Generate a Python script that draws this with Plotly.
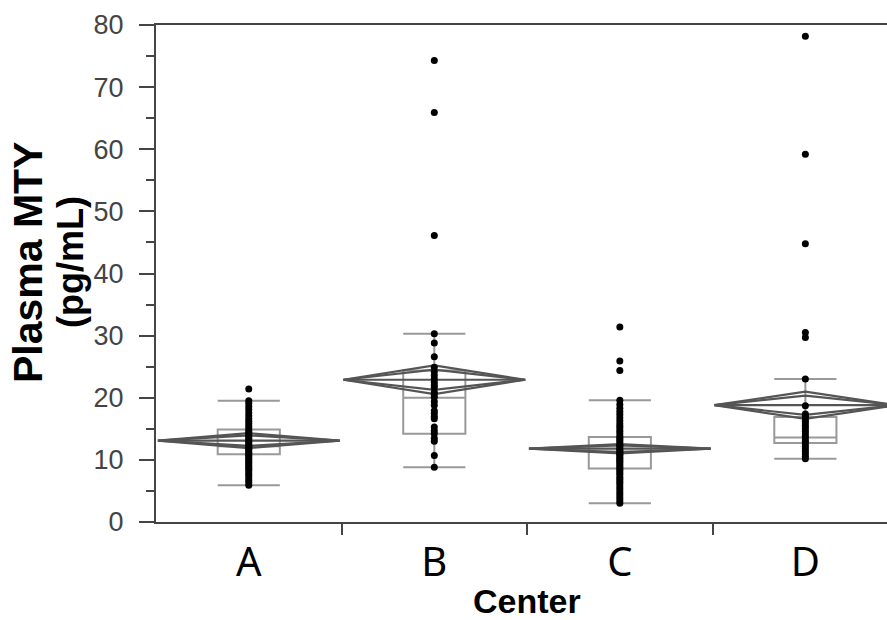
import math
import plotly.graph_objects as go

# ---------------- data ----------------
categories = ["A", "B", "C", "D"]

points_A = [5.9, 6.3, 6.7, 7.1, 7.5, 7.8, 8.2, 8.5, 8.8, 9.1, 9.4, 9.7, 10.0, 10.2,
            10.5, 10.7, 11.0, 11.2, 11.5, 11.7, 12.0, 12.2, 12.4, 12.7, 12.9, 13.2,
            13.5, 13.8, 14.1, 14.4, 14.7, 15.0, 15.4, 15.8, 16.2, 16.6, 17.1, 17.6,
            18.1, 18.6, 19.1, 19.5, 21.4]
points_B = [8.8, 10.7, 13.0, 13.5, 14.2, 14.7, 15.3, 16.6, 17.0, 17.5, 17.9, 18.8,
            19.4, 20.1, 20.5, 20.9, 21.6, 22.0, 22.5, 23.0, 23.6, 24.2, 24.9, 26.6,
            28.8, 30.3, 46.1, 65.9, 74.3]
points_C = [3.0, 3.4, 3.8, 4.2, 4.6, 5.0, 5.4, 5.8, 6.2, 6.5, 6.9, 7.2, 7.6, 7.9,
            8.2, 8.5, 8.8, 9.1, 9.4, 9.7, 9.9, 10.2, 10.4, 10.7, 10.9, 11.1, 11.4,
            11.6, 11.8, 12.1, 12.3, 12.6, 12.9, 13.2, 13.5, 13.8, 14.2, 14.6, 15.0,
            15.4, 15.8, 16.3, 16.8, 17.3, 17.8, 18.3, 18.9, 19.6, 24.4, 25.9, 31.4]
points_D = [10.2, 10.6, 11.0, 11.4, 11.8, 12.2, 12.6, 13.0, 13.4, 13.8, 14.2, 14.6,
            15.0, 15.4, 15.8, 16.2, 16.6, 17.0, 17.4, 18.7, 23.0, 29.7, 30.5, 44.8,
            59.2, 78.2]
group_points = [points_A, points_B, points_C, points_D]

box_q1 = [10.9, 14.2, 8.6, 12.7]
box_median = [12.2, 20.0, 11.3, 13.6]
box_q3 = [14.9, 24.4, 13.7, 16.9]
whisker_low = [5.9, 8.8, 3.0, 10.2]
whisker_high = [19.5, 30.3, 19.6, 23.0]

group_mean = [13.1, 22.9, 11.8, 18.8]
group_ci = [1.2, 2.3, 0.75, 2.2]

y_ticks = [0, 10, 20, 30, 40, 50, 60, 70, 80]

# ---------------- styling ----------------
AXIS_COLOR = "#454545"
BOX_COLOR = "#999999"
DIAMOND_COLOR = "#555555"
BOX_WIDTH = 0.335
DIAMOND_HW = 0.49

fig = go.Figure()

# box plots
for i, cat in enumerate(categories):
    fig.add_trace(go.Box(
        x=[i], q1=[box_q1[i]], median=[box_median[i]], q3=[box_q3[i]],
        lowerfence=[whisker_low[i]], upperfence=[whisker_high[i]],
        width=BOX_WIDTH, whiskerwidth=1, boxpoints=False,
        line=dict(color=BOX_COLOR, width=2), fillcolor="rgba(0,0,0,0)",
        showlegend=False, hoverinfo="skip"))

# means diamonds
for i, cat in enumerate(categories):
    m, c = group_mean[i], group_ci[i]
    ci2 = c / math.sqrt(2)
    xs = [i - DIAMOND_HW, i, i + DIAMOND_HW, i, i - DIAMOND_HW, None,
          i - DIAMOND_HW, i, i + DIAMOND_HW, i, i - DIAMOND_HW, None,
          i - DIAMOND_HW, i + DIAMOND_HW]
    ys = [m, m + c, m, m - c, m, None,
          m, m + ci2, m, m - ci2, m, None,
          m, m]
    fig.add_trace(go.Scatter(x=xs, y=ys, mode="lines",
                             line=dict(color=DIAMOND_COLOR, width=2.2),
                             showlegend=False, hoverinfo="skip"))

# points
for i, vals in enumerate(group_points):
    fig.add_trace(go.Scatter(x=[i] * len(vals), y=vals, mode="markers",
                             marker=dict(color="black", size=7),
                             showlegend=False))

fig.update_layout(
    width=887, height=620,
    margin=dict(l=156, r=0, t=25, b=98),
    plot_bgcolor="white", paper_bgcolor="white",
    showlegend=False,
    xaxis=dict(
        range=[-0.5, 3.44], tickmode="array", tickvals=[0, 1, 2, 3],
        ticktext=categories, ticks="", showgrid=False, zeroline=False,
        showline=True, linecolor=AXIS_COLOR, linewidth=2, mirror=True,
        tickfont=dict(family="Noto Sans", size=40, color="black"),
        ticklabelstandoff=4,
        minor=dict(tickvals=[0.5, 1.5, 2.5], ticks="outside", ticklen=11,
                   tickwidth=2, tickcolor=AXIS_COLOR),
    ),
    yaxis=dict(
        range=[0, 80], tickmode="array", tickvals=y_ticks,
        ticks="outside", ticklen=15, tickwidth=2, tickcolor=AXIS_COLOR,
        showgrid=False, zeroline=False,
        showline=True, linecolor=AXIS_COLOR, linewidth=2,
        tickfont=dict(family="Liberation Sans, Arial", size=27, color="#444444"),
        ticklabelstandoff=10,
        minor=dict(dtick=5, ticks="outside", ticklen=8, tickwidth=2,
                   tickcolor=AXIS_COLOR),
    ),
    annotations=[
        dict(text="<b>Plasma MTY</b>", xref="paper", yref="paper", x=0, y=0.523,
             xshift=-128, textangle=-90, showarrow=False, xanchor="center",
             yanchor="middle",
             font=dict(family="Liberation Sans, Arial", size=41, color="black")),
        dict(text="<b>(pg/mL)</b>", xref="paper", yref="paper", x=0, y=0.523,
             xshift=-86, textangle=-90, showarrow=False, xanchor="center",
             yanchor="middle",
             font=dict(family="Liberation Sans, Arial", size=36, color="black")),
        dict(text="<b>Center</b>", xref="paper", yref="paper", x=0.5075, y=0,
             yshift=-79, showarrow=False, xanchor="center", yanchor="middle",
             font=dict(family="Liberation Sans, Arial", size=34, color="black")),
    ],
)

fig.write_html("out.html")
